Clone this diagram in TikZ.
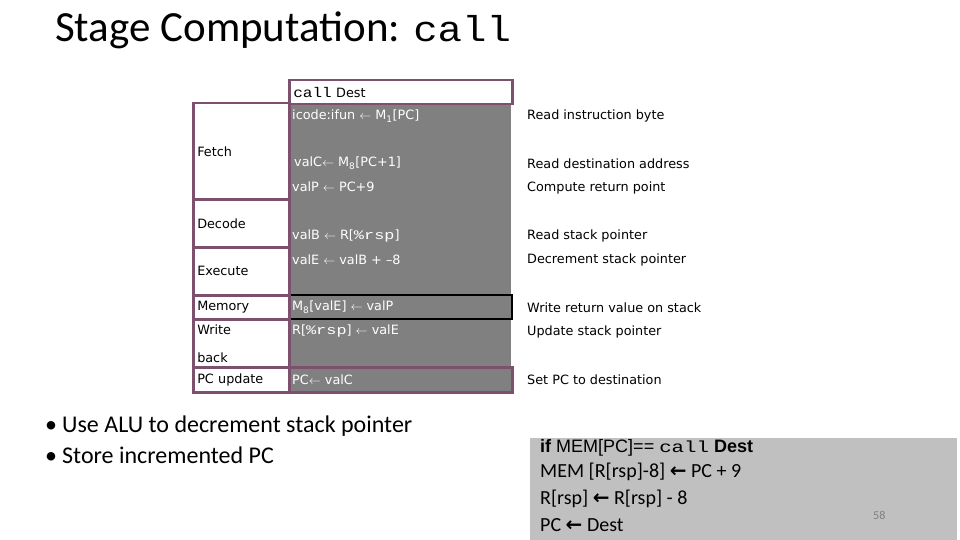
\documentclass[tikz,border=0pt]{standalone}
\usepackage{fontspec}
\usepackage{graphicx}
\setmainfont{Carlito}
\newfontfamily\tabfont{DejaVu Sans}
\newfontfamily\arialfont{Liberation Sans}
\newfontfamily\cmono{Liberation Mono}
\newfontfamily\symfont{DejaVu Sans}
\definecolor{stagepurple}{RGB}{125,80,110}
\definecolor{midgray}{RGB}{128,128,128}
\definecolor{codegray}{RGB}{192,192,192}
\newcommand{\mytt}[3]{\scalebox{#3}[1]{\fontsize{#2}{#2}\cmono #1}}
\newcommand{\lar}{$\leftarrow$}
\newcommand{\boldlar}{{\symfont\bfseries ←}}
\tikzset{
  stagebox/.style={draw=stagepurple, line width=2.5pt, fill=white, anchor=north west,
    minimum width=96pt, text width=88pt, inner xsep=4pt, inner ysep=0pt, align=left,
    font=\fontsize{12.8}{14}\tabfont},
  grayrow/.style={anchor=north west, minimum width=223pt, inner sep=0pt},
  graytext/.style={anchor=west, inner sep=0pt, text=white, font=\fontsize{12.8}{14}\tabfont},
  desc/.style={anchor=west, inner sep=0pt, font=\fontsize{12.8}{14}\tabfont},
  bullettext/.style={anchor=base west, inner sep=0pt, font=\fontsize{24}{28}\selectfont},
  codetext/.style={anchor=base west, inner sep=0pt, font=\fontsize{20}{24}\selectfont},
}
\begin{document}
\begin{tikzpicture}[x=1pt,y=-1pt]
\useasboundingbox (0,0) rectangle (960,540);

% title
\node[anchor=base west, inner sep=0pt] (title) at (55,42)
  {\fontsize{43}{50}\selectfont Stage Computation: \mytt{call}{36}{1.13}};

% gray area and rows
\node[grayrow, fill=midgray, minimum height=288pt] (grayarea) at (288,103) {};
\node[grayrow, draw=black, line width=2pt, minimum height=24pt] (memrow) at (288,294) {};
\node[grayrow, draw=stagepurple, line width=2.5pt, minimum height=25pt] (pcrow) at (288,366) {};
\node[grayrow, draw=stagepurple, line width=2.5pt, fill=white, minimum height=24pt,
  text width=215pt, inner xsep=4pt, align=left, font=\fontsize{12.8}{14}\tabfont] (callbox) at (288,79)
  {\mytt{call}{14}{1.15} Dest};

% stage boxes
\node[stagebox, minimum height=96pt] (fetch) at (192,102) {Fetch};
\node[stagebox, minimum height=48pt] (decode) at (192,198) {Decode};
\node[stagebox, minimum height=48pt] (execute) at (192,246) {Execute};
\node[stagebox, minimum height=24pt] (memory) at (192,294) {Memory};
\node[stagebox, minimum height=48pt] (writeback) at (192,318) {Write\\[14pt]back};
\node[stagebox, minimum height=25pt] (pcupdate) at (192,366) {PC update};

% gray texts
\node[graytext] (g1) at (292,116) {icode:ifun \lar{} M\textsubscript{1}[PC]};
\node[graytext] (g2) at (294,163) {valC\lar{} M\textsubscript{8}[PC+1]};
\node[graytext] (g3) at (292,187) {valP \lar{} PC+9};
\node[graytext] (g4) at (292,236) {valB \lar{} R[\mytt{\%rsp}{13}{1.3}]};
\node[graytext] (g5) at (292,260) {valE \lar{} valB + –8};
\node[graytext] (g6) at (292,307) {M\textsubscript{8}[valE] \lar{} valP};
\node[graytext] (g7) at (292,331) {R[\mytt{\%rsp}{13}{1.3}] \lar{} valE};
\node[graytext] (g8) at (292,380) {PC\lar{} valC};

% descriptions
\node[desc] (d1) at (527,116) {Read instruction byte};
\node[desc] (d2) at (527,164) {Read destination address};
\node[desc] (d3) at (527,188) {Compute return point};
\node[desc] (d4) at (527,236) {Read stack pointer};
\node[desc] (d5) at (527,260) {Decrement stack pointer};
\node[desc] (d6) at (527,308) {Write return value on stack};
\node[desc] (d7) at (527,332) {Update stack pointer};
\node[desc] (d8) at (527,380) {Set PC to destination};

% bullets
\node[bullettext] (b1) at (45,432) {\makebox[17pt][l]{•}Use ALU to decrement stack pointer};
\node[bullettext] (b2) at (45,463) {\makebox[17pt][l]{•}Store incremented PC};

% code box
\node[anchor=north west, fill=codegray, minimum width=427pt, minimum height=102pt, inner sep=0pt] (codebox) at (530,438) {};
\node[anchor=base west, inner sep=0pt, font=\fontsize{18}{22}\arialfont] (c1) at (540,452)
  {\textbf{if} MEM[PC]== \mytt{call}{16}{1.3} \textbf{Dest}};
\node[codetext] (c2) at (540,477) {MEM [R[rsp]-8] \boldlar{} PC + 9};
\node[codetext] (c3) at (540,504) {R[rsp] \boldlar{} R[rsp] - 8};
\node[codetext] (c4) at (540,531) {PC \boldlar{} Dest};
\node[anchor=base west, inner sep=0pt, text=gray, font=\fontsize{12}{14}\selectfont] (pagenum) at (873,519) {58};
\end{tikzpicture}
\end{document}
